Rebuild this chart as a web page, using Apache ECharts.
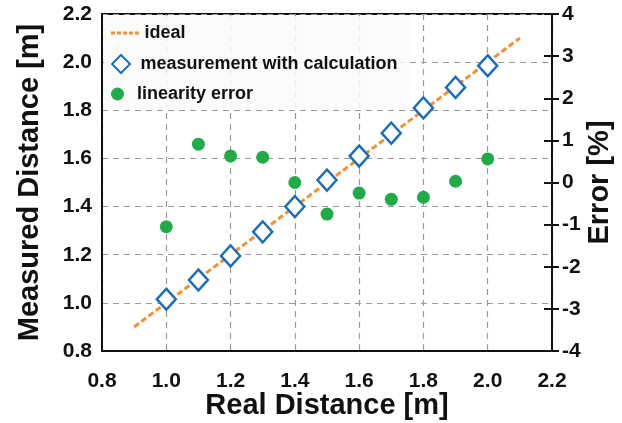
<!DOCTYPE html>
<html>
<head>
<meta charset="utf-8">
<script src="https://cdn.jsdelivr.net/npm/echarts@6/dist/echarts.min.js"></script>
<style>
html,body{margin:0;padding:0;background:#fff;}
#chart{width:622px;height:423px;}
</style>
</head>
<body>
<div id="chart"></div>
<script>
var realDistance = [1.0, 1.1, 1.2, 1.3, 1.4, 1.5, 1.6, 1.7, 1.8, 1.9, 2.0];
var measuredDistance = [1.015, 1.095, 1.195, 1.295, 1.40, 1.51, 1.61, 1.705, 1.81, 1.895, 1.985];
var linearityError = [-1.05, 0.91, 0.63, 0.60, 0.0, -0.75, -0.25, -0.40, -0.35, 0.03, 0.56];
var idealX = [0.9, 2.1];
var idealY = [0.9, 2.1];
var seriesNames = ['ideal', 'measurement with calculation', 'linearity error'];

var FONT = '"Liberation Sans", Arial, sans-serif';
var chart = echarts.init(document.getElementById('chart'));

function pairs(xs, ys){ return xs.map(function(x,i){ return [x, ys[i]]; }); }

var legendText = {fontFamily: FONT, fontWeight: 'bold', fontSize: 18, color: '#111'};
function legendFor(name, icon, top, ih){
  return {
    orient: 'vertical', left: 111, top: top, padding: 0,
    itemWidth: 29, itemHeight: ih, symbolKeepAspect: true,
    selectedMode: false,
    textStyle: legendText,
    data: [{name: name, icon: icon}]
  };
}

chart.setOption({
  animation: false,
  backgroundColor: '#fff',
  grid: {left: 102, right: 70, top: 14, bottom: 72, containLabel: false, outerBoundsMode: 'none',
    show: true, borderColor: '#111', borderWidth: 2, backgroundColor: 'transparent'},
  graphic: [{
    type: 'rect', left: 104, top: 16, z: 1,
    shape: {width: 306, height: 93},
    style: {fill: 'rgba(250,250,250,0.85)'}
  }],
  legend: [
    legendFor(seriesNames[0], 'path://M0,0h4v3h-4zM6,0h4v3h-4zM12,0h4v3h-4zM18,0h4v3h-4zM24,0h4v3h-4z', 24, 3),
    legendFor(seriesNames[1], 'path://M10,0L20,10L10,20L0,10Z', 54, 18),
    legendFor(seriesNames[2], 'circle', 85, 13)
  ],
  xAxis: {
    type: 'value', min: 0.8, max: 2.2, interval: 0.2,
    name: 'Real Distance [m]', nameLocation: 'middle', nameGap: 40, nameMoveOverlap: false,
    nameTextStyle: {fontFamily: FONT, fontWeight: 'bold', fontSize: 29, color: '#111'},
    axisLine: {onZero: false, lineStyle: {color: '#111', width: 2}},
    axisTick: {show: false},
    axisLabel: {fontFamily: FONT, fontWeight: 'bold', fontSize: 21, color: '#111', margin: 20,
      formatter: function(v){ return v.toFixed(1); }},
    splitLine: {show: true, lineStyle: {color: '#999', type: [6, 5], width: 1.2}}
  },
  yAxis: [
    {
      type: 'value', min: 0.8, max: 2.2, interval: 0.2,
      name: 'Measured Distance [m]', nameLocation: 'middle', nameGap: 58, nameRotate: 90, nameMoveOverlap: false,
      nameTextStyle: {fontFamily: FONT, fontWeight: 'bold', fontSize: 29, color: '#111'},
      axisLine: {show: true, onZero: false, lineStyle: {color: '#111', width: 2}},
      axisTick: {show: false},
      axisLabel: {fontFamily: FONT, fontWeight: 'bold', fontSize: 21, color: '#111', margin: 10,
        formatter: function(v){ return v.toFixed(1); }},
      splitLine: {show: true, lineStyle: {color: '#999', type: [6, 5], width: 1.2}}
    },
    {
      type: 'value', min: -4, max: 4, interval: 1, position: 'right',
      name: 'Error [%]', nameLocation: 'middle', nameGap: 33, nameRotate: 90, nameMoveOverlap: false,
      nameTextStyle: {fontFamily: FONT, fontWeight: 'bold', fontSize: 29, color: '#111'},
      axisLine: {show: true, onZero: false, lineStyle: {color: '#111', width: 2}},
      axisTick: {show: true, inside: false, length: 7, lineStyle: {color: '#111', width: 2}},
      axisLabel: {fontFamily: FONT, fontWeight: 'bold', fontSize: 21, color: '#111', margin: 10},
      splitLine: {show: false}
    },
    {
      type: 'value', min: -4, max: 4, interval: 1, position: 'right',
      axisLine: {show: false, onZero: false},
      axisTick: {show: true, inside: true, length: 8, lineStyle: {color: '#111', width: 2}},
      axisLabel: {show: false},
      splitLine: {show: false}
    }
  ],
  series: [
    {
      name: seriesNames[0], type: 'line', yAxisIndex: 0,
      data: pairs(idealX, idealY), symbol: 'none', z: 2,
      lineStyle: {color: '#F0913A', width: 3, type: [6, 3]},
      itemStyle: {color: '#F0913A'}
    },
    {
      name: seriesNames[1], type: 'scatter', yAxisIndex: 0,
      data: pairs(realDistance, measuredDistance), symbol: 'diamond', symbolSize: [19, 21], z: 3,
      itemStyle: {color: '#fff', borderColor: '#1F6DB5', borderWidth: 2.5, opacity: 1}
    },
    {
      name: seriesNames[2], type: 'scatter', yAxisIndex: 1,
      data: pairs(realDistance, linearityError), symbol: 'circle', symbolSize: 13, z: 3,
      itemStyle: {color: '#22A94A', opacity: 1}
    }
  ]
});
</script>
</body>
</html>
